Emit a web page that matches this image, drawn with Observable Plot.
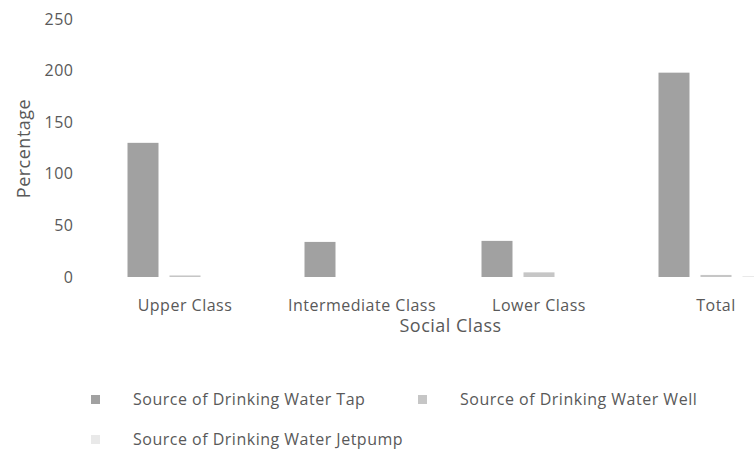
<!DOCTYPE html>
<html>
<head>
<meta charset="utf-8">
<script src="https://cdn.jsdelivr.net/npm/d3@7"></script>
<script src="https://cdn.jsdelivr.net/npm/@observablehq/plot@0.6"></script>
<style>
  html, body { margin: 0; padding: 0; background: #fff; overflow: hidden; }
  body { width: 754px; height: 450px; font-family: "Open Sans", sans-serif; color: #595959; }
  #chart svg { display: block; }
  g[aria-label="y-axis label"] text, g[aria-label="fx-axis label"] text { font-size: 18px; }
  #legend { margin-top: 39px; padding-left: 91px; display: grid; grid-template-columns: 327px 327px; grid-auto-rows: 40px; }
  .item { display: flex; align-items: center; font-size: 16px; letter-spacing: 0.5px; color: #595959; }
  .sw { width: 9px; height: 9px; margin-right: 33px; flex: none; }
</style>
</head>
<body>
<div id="chart"></div>
<div id="legend"></div>
<script>
const classes = ["Upper Class", "Intermediate Class", "Lower Class", "Total"];
const series = ["Source of Drinking Water Tap", "Source of Drinking Water Well", "Source of Drinking Water Jetpump"];
const tapValues = [130, 34, 35, 198];
const wellValues = [1.5, 0, 4.5, 2];
const jetpumpValues = [0, 0, 0, 1];
const yTicks = [0, 50, 100, 150, 200, 250];
const colors = ["#a1a1a1", "#c6c6c6", "#e9e9e9"];

const valuesBySeries = [tapValues, wellValues, jetpumpValues];
const data = classes.flatMap((c, i) => series.map((s, j) => ({cls: c, series: s, value: valuesBySeries[j][i]})));

const chart = Plot.plot({
  width: 754,
  height: 340,
  marginTop: 19,
  marginBottom: 63,
  marginLeft: 125.5,
  marginRight: -19.5,
  style: {fontFamily: "'Open Sans', sans-serif", fontSize: "16px", color: "#595959", background: "white", letterSpacing: "0.5px"},
  fx: {domain: classes, paddingInner: 0.353, paddingOuter: 0},
  x: {domain: series, paddingInner: 0.262, paddingOuter: 0, axis: null},
  y: {domain: [0, 250]},
  color: {domain: series, range: colors},
  marks: [
    Plot.axisY({ticks: yTicks, tickSize: 0, tickPadding: 54, label: "Percentage", labelAnchor: "center", labelArrow: "none", labelOffset: 110}),
    Plot.axisFx({anchor: "bottom", tickSize: 0, tickPadding: 22, label: "Social Class", labelAnchor: "center", labelOffset: 54}),
    Plot.barY(data, {fx: "cls", x: "series", y: "value", fill: "series"})
  ]
});
document.getElementById("chart").append(chart);

const legend = document.getElementById("legend");
series.forEach((s, i) => {
  const item = document.createElement("div");
  item.className = "item";
  const sw = document.createElement("span");
  sw.className = "sw";
  sw.style.background = colors[i];
  const t = document.createElement("span");
  t.textContent = s;
  item.append(sw, t);
  legend.append(item);
});
</script>
</body>
</html>
